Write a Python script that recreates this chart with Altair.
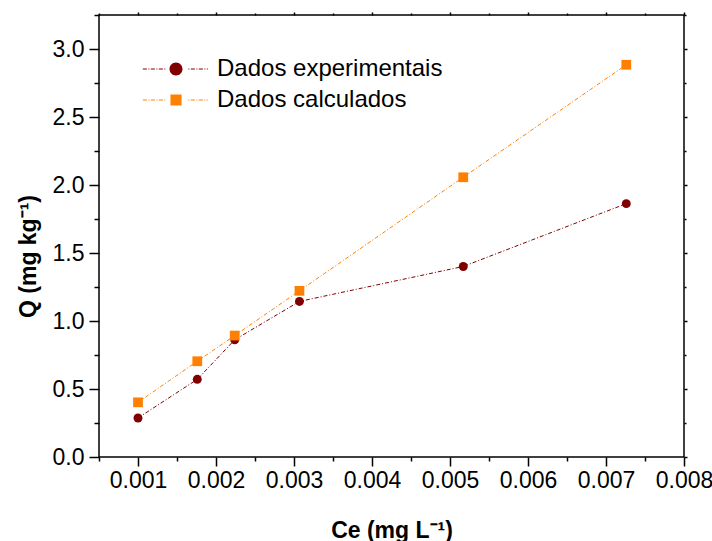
import altair as alt
import pandas as pd

# ---- data ----
ce = [0.00100, 0.00176, 0.00224, 0.00307, 0.00517, 0.00726]
q_exp = [0.287, 0.571, 0.862, 1.144, 1.401, 1.863]
q_calc = [0.402, 0.704, 0.893, 1.222, 2.057, 2.884]
series = ["Dados experimentais", "Dados calculados"]
colors = ["#800000", "#FF8000"]

x_ticks = [round(0.0005 * k, 4) for k in range(1, 17)]
y_ticks = [0.25 * k for k in range(0, 14)]

df = pd.DataFrame({
    "ce": ce + ce,
    "q": q_exp + q_calc,
    "series": [series[0]] * len(ce) + [series[1]] * len(ce),
})

# ---- legend symbols: marker with a dash-dot line, as custom paths ----
def dash_path(x0, x1, skip=1.15, h=0.08):
    pattern = [(0.62, True), (0.23, False), (0.15, True), (0.23, False)]
    parts = []
    x = x0
    i = 0
    while x < x1:
        length, on = pattern[i % 4]
        end = min(x + length, x1)
        if on and not (-skip < x < skip or -skip < end < skip):
            parts.append(f"M{x:.3f},{-h} L{end:.3f},{-h} L{end:.3f},{h} L{x:.3f},{h} Z")
        x += length
        i += 1
    return " ".join(parts)

k = 0.5523
circle_core = (f"M1,0 C1,{k} {k},1 0,1 C{-k},1 -1,{k} -1,0 "
               f"C-1,{-k} {-k},-1 0,-1 C{k},-1 1,{-k} 1,0 Z")
line_part = dash_path(-5.1, 4.9)
circle_path = circle_core + " " + line_part
square_path = "M-0.85,-0.85 L0.85,-0.85 L0.85,0.85 L-0.85,0.85 Z " + line_part

xscale = alt.Scale(domain=[0.0005, 0.008], nice=False, zero=False)
yscale = alt.Scale(domain=[0, 3.25], nice=False, zero=False)

x_major = "round(datum.value * 2000) % 2 == 0"
y_major = "datum.value % 0.5 == 0"

x_axis_bottom = alt.Axis(
    values=x_ticks, orient="bottom", domain=False, grid=False,
    labelExpr=f"{x_major} ? format(datum.value, '.3f') : ''",
    tickSize={"condition": {"test": x_major, "value": 9}, "value": 4},
    labelFontSize=23, labelPadding=3, labelOverlap=False, labelFlush=False,
    title="Ce (mg L⁻¹)", titleFontSize=23, titleFontWeight="bold",
    titleBaseline="alphabetic", titleY=80,
)
y_axis_left = alt.Axis(
    values=y_ticks, orient="left", domain=False, grid=False,
    labelExpr=f"{y_major} ? format(datum.value, '.1f') : ''",
    tickSize={"condition": {"test": y_major, "value": 10}, "value": 5},
    labelFontSize=23, labelPadding=5, labelOverlap=False, labelFlush=False,
    title="Q (mg kg⁻¹)", titleFontSize=23, titleFontWeight="bold",
    titleAngle=270, titleBaseline="alphabetic", titleX=-64, titleY=241,
)
x_axis_top = alt.Axis(
    values=x_ticks, orient="top", domain=False, grid=False, labels=False,
    tickSize={"condition": {"test": x_major, "value": 3}, "value": 2}, title=None,
)
y_axis_right = alt.Axis(
    values=y_ticks, orient="right", domain=False, grid=False, labels=False,
    tickSize={"condition": {"test": y_major, "value": 3}, "value": 2}, title=None,
)

base = alt.Chart(df)


def series_layer(name, color, mark, xaxis=None, yaxis=None):
    filtered = base.transform_filter(alt.datum.series == name)
    if mark == "line":
        m = filtered.mark_line(strokeWidth=1, strokeDash=[4, 2, 1, 2], color=color)
    else:
        m = filtered.mark_point(shape=mark, filled=True,
                                size=80 if mark == "circle" else 95,
                                opacity=1, color=color)
    return m.encode(
        x=alt.X("ce:Q", scale=xscale, axis=xaxis),
        y=alt.Y("q:Q", scale=yscale, axis=yaxis),
    )


line_exp = series_layer(series[0], colors[0], "line", x_axis_bottom, y_axis_left)
line_calc = series_layer(series[1], colors[1], "line")
pts_exp = series_layer(series[0], colors[0], "circle", x_axis_top, y_axis_right)
pts_calc = series_layer(series[1], colors[1], "square")

legend_props = dict(
    title=None, orient="none", legendX=65, legendY=42,
    labelFontSize=24, labelLimit=400, labelOffset=29, rowPadding=7,
    symbolSize=169, symbolStrokeWidth=0, symbolOpacity=1, padding=0,
)
# legend-only layer (no rows drawn): its scales carry the two series
legend_layer = base.transform_filter("false").mark_point(
    filled=True, size=169, opacity=1
).encode(
    x=alt.X("ce:Q", scale=xscale, axis=None),
    y=alt.Y("q:Q", scale=yscale, axis=None),
    fill=alt.Fill("series:N", scale=alt.Scale(domain=series, range=colors),
                  legend=alt.Legend(**legend_props)),
    shape=alt.Shape("series:N", scale=alt.Scale(domain=series, range=[circle_path, square_path]),
                    legend=alt.Legend(**legend_props)),
)

chart = alt.layer(line_exp, line_calc, pts_exp, pts_calc, legend_layer).resolve_axis(
    x="independent", y="independent"
).properties(
    width=585, height=442,
    autosize=alt.AutoSizeParams(type="none"),
    padding={"left": 99, "top": 15, "right": 28, "bottom": 84},
).configure(
    font="Liberation Sans",
).configure_view(
    stroke="black", strokeWidth=1.5,
).configure_axis(
    tickColor="black", tickWidth=1.5, labelColor="black", titleColor="black",
    labelFont="Liberation Sans", titleFont="Liberation Sans",
).configure_legend(
    labelColor="black", labelFont="Liberation Sans",
)

chart.save("out.html", embed_options={"renderer": "svg", "actions": False})
